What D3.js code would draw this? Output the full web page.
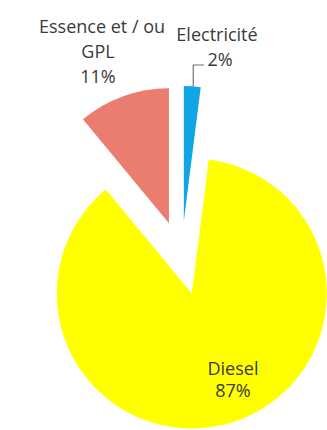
<!DOCTYPE html>
<html><head><meta charset="utf-8">
<script src="https://cdn.jsdelivr.net/npm/d3@7"></script>
<style>html,body{margin:0;padding:0;background:#fff;}</style>
</head><body>
<svg id="c" width="327" height="430"></svg>
<script>
const categories = ["Electricité", "Diesel", "Essence et / ou GPL"];
const values = [2, 87, 11];
const labelLines = [["Electricité", "2%"], ["Diesel", "87%"], ["Essence et / ou", "GPL", "11%"]];
const colors = ["#12A5E6", "#FFFF00", "#EA7C70"];

const svg = d3.select("#c");
const cx = 181.5, cy = 258, r = 135, explode = 37;
const pie = d3.pie().sort(null).value(d => d)(values);
const arc = d3.arc().innerRadius(0).outerRadius(r);
const g = svg.append("g").attr("transform", `translate(${cx},${cy})`);
g.selectAll("path").data(pie).join("path")
  .attr("d", arc)
  .attr("fill", (d, i) => colors[i])
  .attr("transform", d => {
    const a = (d.startAngle + d.endAngle) / 2;
    return `translate(${Math.sin(a) * explode},${-Math.cos(a) * explode})`;
  });

// labels: [x of each line, first baseline, line step]
const labelPos = [[[217, 220], 41, 25], [[233, 233], 375, 22], [[102, 98, 98], 33, 25]];
const font = "'Open Sans', sans-serif";
labelLines.forEach((lines, i) => {
  const t = svg.append("text").attr("text-anchor", "middle")
    .attr("font-family", font).attr("font-size", 18).attr("fill", "#3a3a3a");
  lines.forEach((l, j) => {
    t.append("tspan").attr("x", labelPos[i][0][j]).attr("y", labelPos[i][1] + j * labelPos[i][2]).text(l);
  });
});
// leader line for Electricité
const a0 = (pie[0].startAngle + pie[0].endAngle) / 2;
const ex = cx + Math.sin(a0) * explode + Math.sin(pie[0].startAngle + 0.07) * r;
const ey = cy - Math.cos(a0) * explode - Math.cos(pie[0].startAngle + 0.07) * r;
svg.append("path").attr("d", `M${ex},${ey}V65H204`).attr("fill", "none").attr("stroke", "#707070").attr("stroke-width", 1.2);
</script>
</body></html>
